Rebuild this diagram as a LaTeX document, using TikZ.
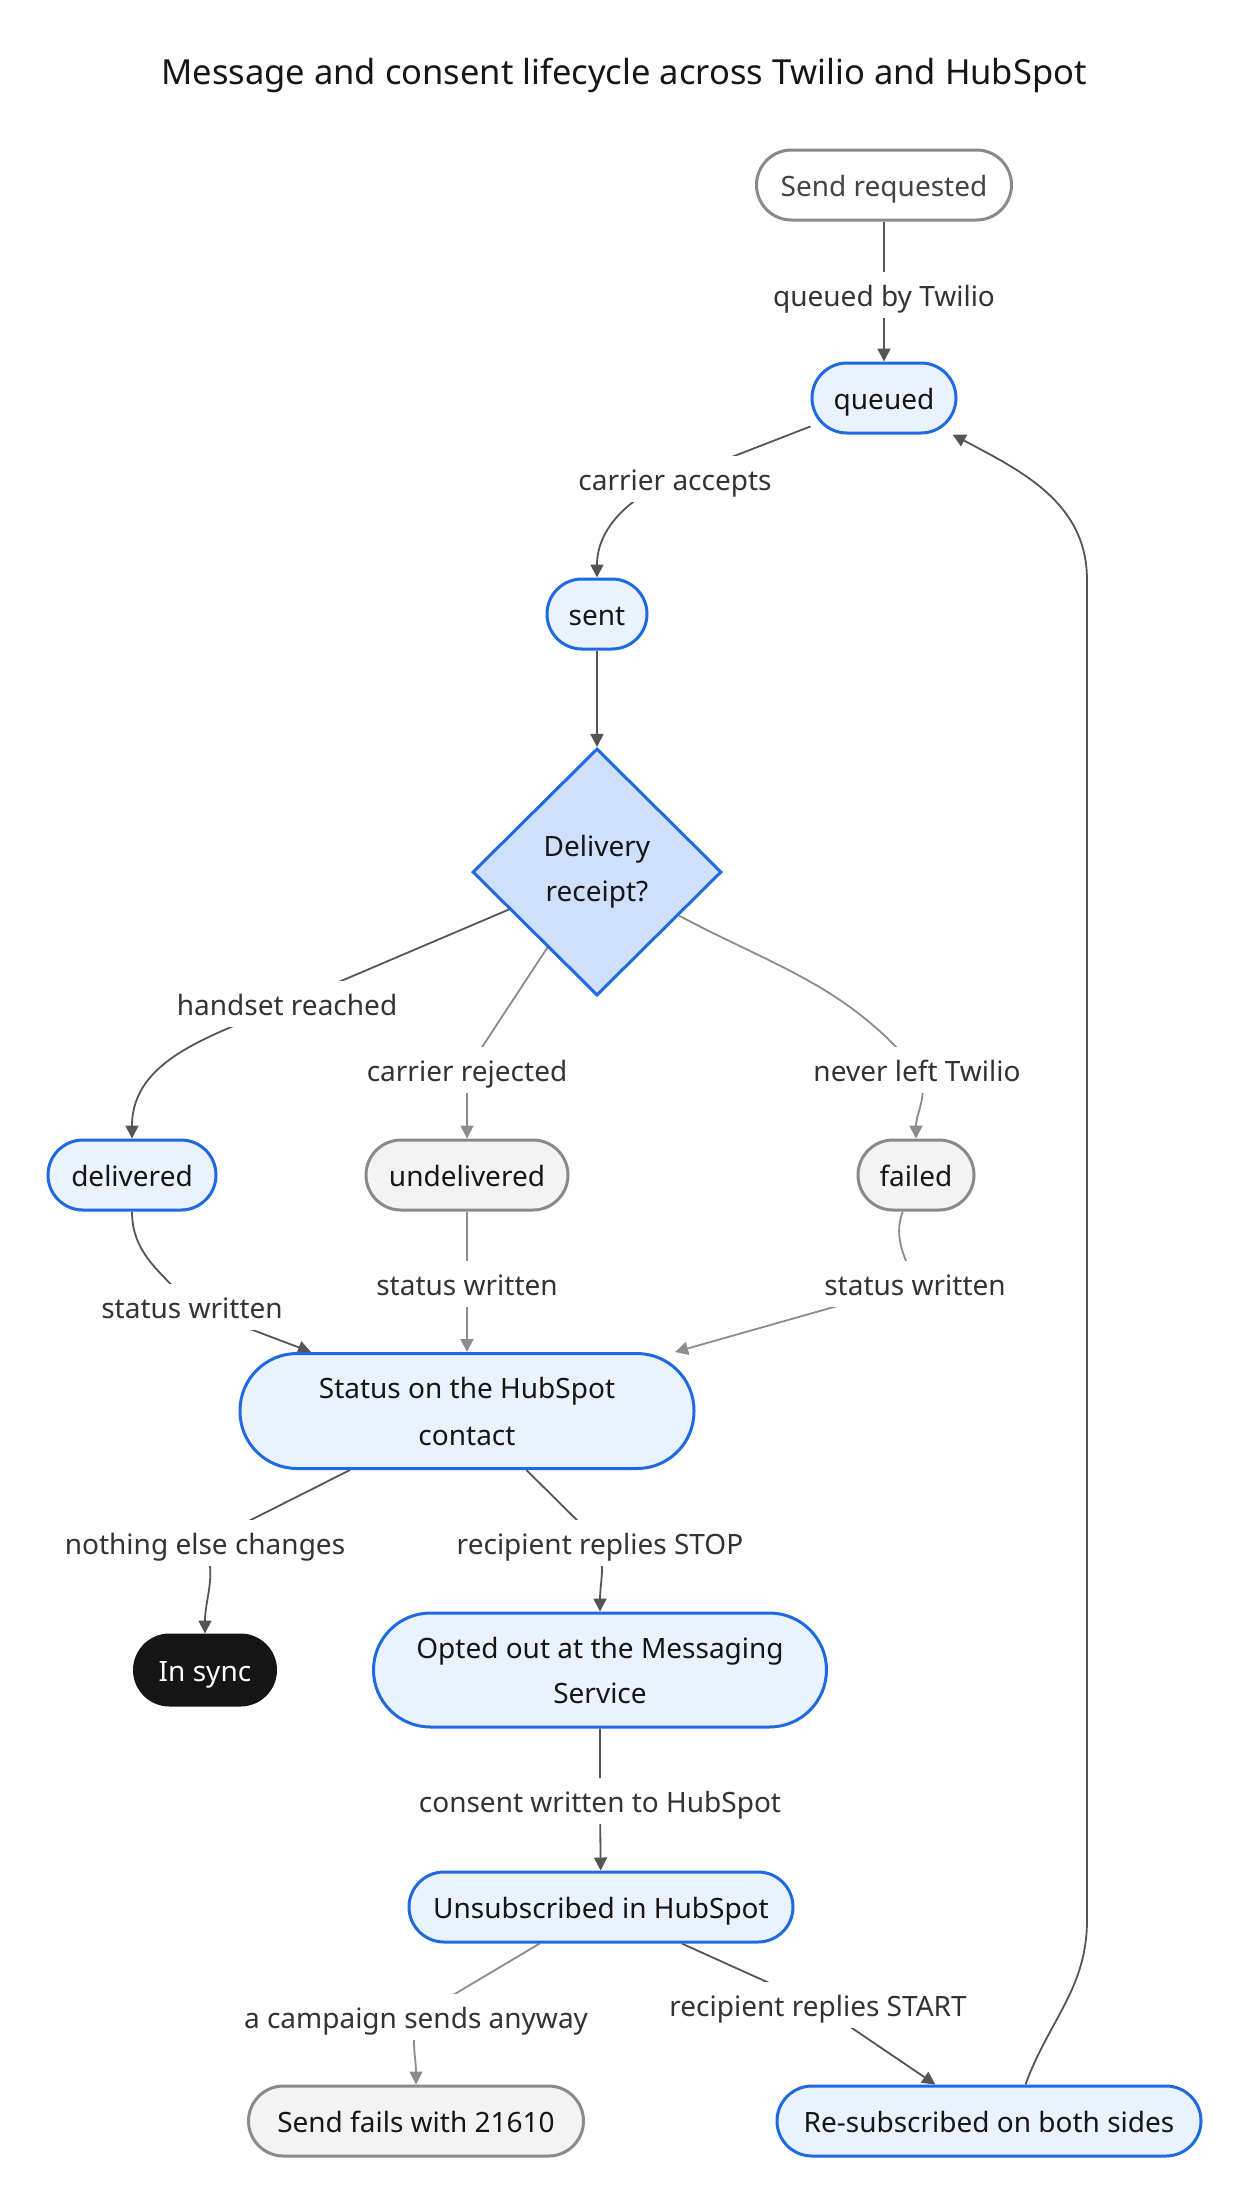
\documentclass[tikz,border=0pt]{standalone}
\usepackage{fontspec}
\setmainfont{Noto Sans}
\usetikzlibrary{shapes.geometric,arrows.meta}
\definecolor{bluebd}{HTML}{1F6AE2}
\definecolor{bluefill}{HTML}{EAF2FE}
\definecolor{diafill}{HTML}{CFE0FC}
\definecolor{graybd}{HTML}{8A8A8A}
\definecolor{grayfill}{HTML}{F3F3F3}
\definecolor{edark}{HTML}{555555}
\definecolor{egray}{HTML}{8C8C8C}
\definecolor{txt}{HTML}{161616}
\definecolor{lbltxt}{HTML}{333333}
\definecolor{sendtxt}{HTML}{444444}
\definecolor{syncfill}{HTML}{151515}
\pgfdeclarelayer{bg}
\pgfdeclarelayer{paper}
\pgfsetlayers{paper,bg,main}
\begin{document}
\begin{tikzpicture}[x=1pt,y=-1pt,
  base/.style={font=\fontsize{28}{46}\selectfont, text=txt, align=center, inner sep=0pt},
  single/.style={text height=26pt, text depth=4pt},
  pill/.style={base, rectangle, rounded corners=35pt, line width=3pt, minimum height=70pt},
  bluenode/.style={pill, draw=bluebd, fill=bluefill},
  greynode/.style={pill, draw=graybd, fill=grayfill},
  bigblue/.style={bluenode, rounded corners=57pt, minimum height=115pt},
  lbl/.style={font=\fontsize{28}{34}\selectfont, text=lbltxt, fill=white, inner xsep=4pt, inner ysep=8pt, text height=26pt, text depth=4pt},
  e/.style={draw=edark, line width=1.8pt, -{Triangle[length=13pt,width=13pt]}},
  eg/.style={e, draw=egray}
]
\begin{pgfonlayer}{paper}
\fill[white] (0,0) rectangle (1250,2204);
\end{pgfonlayer}
\useasboundingbox (0,0) rectangle (1250,2204);

\node[base, single, font=\fontsize{34.5}{40}\selectfont] (title) at (624,73) {Message and consent lifecycle across Twilio and HubSpot};

\node[pill, single, draw=graybd, fill=white, text=sendtxt, minimum width=255pt] (send) at (884,185) {Send requested};
\node[bluenode, single, minimum width=144pt] (queued) at (884,398) {queued};
\node[bluenode, single, minimum width=100pt] (sent) at (597,614) {sent};
\node[base, diamond, draw=bluebd, fill=diafill, line width=3pt, minimum width=249pt, minimum height=247pt, font=\fontsize{28}{45}\selectfont] (dia) at (597,872) {Delivery\\receipt?};
\node[bluenode, single, minimum width=168pt] (del) at (132,1175) {delivered};
\node[greynode, single, minimum width=202pt] (undel) at (467,1175) {undelivered};
\node[greynode, single, minimum width=116pt] (fail) at (916,1175) {failed};
\node[bigblue, minimum width=454pt, font=\fontsize{28}{47}\selectfont] (stat) at (467,1411) {Status on the HubSpot\\contact};
\node[pill, single, fill=syncfill, draw=syncfill, text=white, minimum width=141pt] (sync) at (205,1670) {In sync};
\node[bigblue, minimum width=453pt, minimum height=114pt, font=\fontsize{28}{45}\selectfont] (opt) at (600,1670) {Opted out at the Messaging\\Service};
\node[bluenode, single, minimum width=384pt] (unsub) at (601,1907) {Unsubscribed in HubSpot};
\node[greynode, single, minimum width=335pt] (fails) at (416,2121) {Send fails with 21610};
\node[bluenode, single, minimum width=424pt] (resub) at (989,2121) {Re-subscribed on both sides};

\node[lbl] (lq) at (884,295) {queued by Twilio};
\node[lbl] (la) at (675,479) {carrier accepts};
\node[lbl] (lh) at (287,1004) {handset reached};
\node[lbl] (lc) at (467,1070) {carrier rejected};
\node[lbl] (ln) at (917,1070) {never left Twilio};
\node[lbl] (lsd) at (192,1307) {status written};
\node[lbl] (lsu) at (467,1284) {status written};
\node[lbl] (lsf) at (915,1284) {status written};
\node[lbl] (lns) at (205,1543) {nothing else changes};
\node[lbl] (lst) at (600,1543) {recipient replies STOP};
\node[lbl] (lcw) at (600,1801) {consent written to HubSpot};
\node[lbl] (lca) at (416,2017) {a campaign sends anyway};
\node[lbl] (lsr) at (818,2005) {recipient replies START};

\coordinate (c1) at (1087,1920);
\coordinate (c2) at (1087,580);

\begin{pgfonlayer}{bg}
\draw[e] (send) -- (lq.center) -- (queued);
\draw[e] (queued) -- (la.center) to[out=201,in=90] (sent);
\draw[e] (sent) -- (dia);
\draw[e] (dia) -- (lh.center) to[out=203,in=90] (del);
\draw[eg] (dia) -- (lc.center) -- (undel);
\draw[eg] (dia.-28) to[out=-28,in=130] (ln.center) to[out=-60,in=90] (fail);
\draw[e] (del) to[out=270,in=130] (lsd.center) -- (stat);
\draw[eg] (undel) -- (lsu.center) -- (stat);
\draw[eg] (fail) to[out=250,in=110] (lsf.center) -- (stat);
\draw[e] (stat) -- (lns.center) to[out=-70,in=90] (sync);
\draw[e] (stat) -- (lst.center) to[out=-80,in=90] (opt);
\draw[e] (opt) -- (lcw.center) -- (unsub);
\draw[eg] (unsub) -- (lca.center) to[out=-100,in=90] (fails);
\draw[e] (unsub) -- (lsr.center) -- (resub);
\draw[e] (resub.45) to[out=70,in=270] (c1) -- (c2) to[out=90,in=-28] (queued);
\end{pgfonlayer}
\end{tikzpicture}
\end{document}
